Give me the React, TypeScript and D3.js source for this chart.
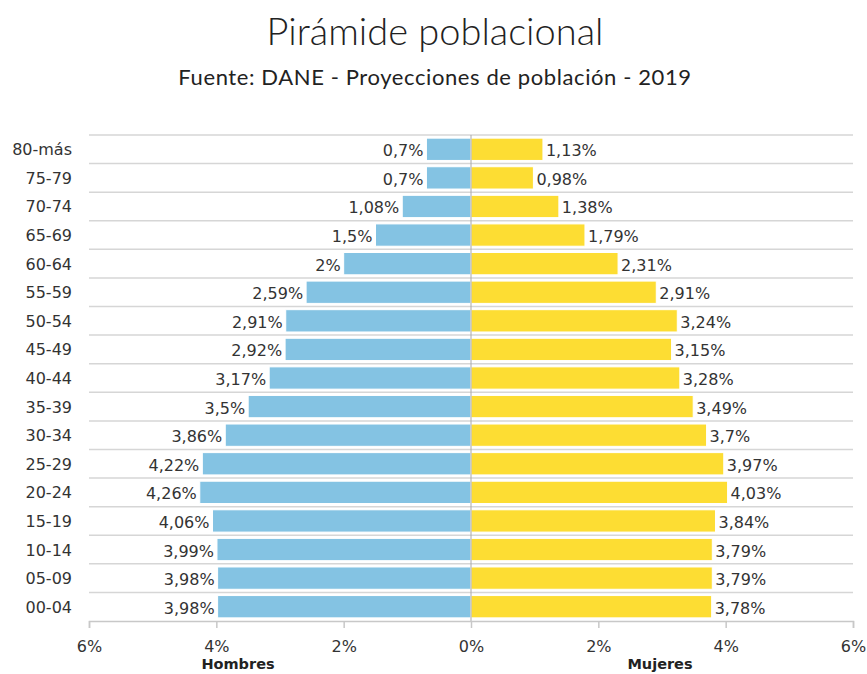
import React, { useEffect, useRef } from "react";
import { scaleLinear, scaleBand, axisBottom, select } from "d3";

const edades = ["80-más", "75-79", "70-74", "65-69", "60-64", "55-59", "50-54", "45-49", "40-44", "35-39", "30-34", "25-29", "20-24", "15-19", "10-14", "05-09", "00-04"];
const hombres = [0.7, 0.7, 1.08, 1.5, 2, 2.59, 2.91, 2.92, 3.17, 3.5, 3.86, 4.22, 4.26, 4.06, 3.99, 3.98, 3.98];
const mujeres = [1.13, 0.98, 1.38, 1.79, 2.31, 2.91, 3.24, 3.15, 3.28, 3.49, 3.7, 3.97, 4.03, 3.84, 3.79, 3.79, 3.78];
const ticksX = [-6, -4, -2, 0, 2, 4, 6];

const width = 867,
  height = 674;
const labelFont = "'DejaVu Sans', Verdana, sans-serif";
const titleFont = "Lato, 'Open Sans', sans-serif";

const pct = (v: number) => String(Math.abs(v)).replace(".", ",") + "%";

export default function App() {
  const axisRef = useRef<SVGGElement>(null);

  const margin = { top: 135, bottom: 621, left: 89, right: 853 };

  const x = scaleLinear().domain([-6, 6]).range([margin.left, margin.right]);
  const y = scaleBand<string>()
    .domain(edades)
    .range([margin.top, margin.bottom])
    .paddingInner(0.22)
    .paddingOuter(0.11);
  const step = y.step();
  const x0 = x(0);

  useEffect(() => {
    const axis = axisBottom(x)
      .tickValues(ticksX)
      .tickSize(7)
      .tickPadding(13)
      .tickFormat(d => pct(d as number));
    const g = select(axisRef.current);
    g.call(axis);
    g.select(".domain").attr("stroke", "#c8c8c8").attr("stroke-width", 1.5);
    g.selectAll(".tick line").attr("stroke", "#c8c8c8").attr("stroke-width", 1.5);
    g.selectAll(".tick text")
      .attr("fill", "#333")
      .style("font-family", labelFont)
      .style("font-size", "16px");
  }, []);

  return (
    <svg
      width={width}
      height={height}
      style={{ position: "absolute", left: 0, top: 0, background: "#fff" }}
    >
      <text
        x={435}
        y={45}
        textAnchor="middle"
        style={{ fontFamily: titleFont, fontSize: 38, fontWeight: 300, fill: "#222" }}
      >
        Pirámide poblacional
      </text>
      <text
        x={435}
        y={85}
        textAnchor="middle"
        style={{ fontFamily: titleFont, fontSize: 22, letterSpacing: 0.6, fill: "#222" }}
      >
        Fuente: DANE - Proyecciones de población - 2019
      </text>

      {/* grid lines */}
      {edades.map((d, i) => (
        <line
          key={"g" + d}
          x1={margin.left}
          x2={margin.right}
          y1={margin.top + i * step}
          y2={margin.top + i * step}
          stroke="#d6d6d6"
          strokeWidth={1.5}
        />
      ))}

      {/* bars */}
      {edades.map((d, i) => (
        <g key={d}>
          <rect
            x={x(-hombres[i])}
            y={y(d)}
            width={x0 - x(-hombres[i])}
            height={y.bandwidth()}
            fill="#84c3e3"
            stroke="#fff"
            strokeWidth={1}
          />
          <rect
            x={x0}
            y={y(d)}
            width={x(mujeres[i]) - x0}
            height={y.bandwidth()}
            fill="#fddd33"
            stroke="#fff"
            strokeWidth={1}
          />
          <text
            x={x(-hombres[i]) - 3}
            y={(y(d) as number) + y.bandwidth() / 2 + 7}
            textAnchor="end"
            style={{ fontFamily: labelFont, fontSize: 16, fill: "#333" }}
          >
            {pct(hombres[i])}
          </text>
          <text
            x={x(mujeres[i]) + 3}
            y={(y(d) as number) + y.bandwidth() / 2 + 7}
            style={{ fontFamily: labelFont, fontSize: 16, fill: "#333" }}
          >
            {pct(mujeres[i])}
          </text>
          <text
            x={72}
            y={(y(d) as number) + y.bandwidth() / 2 + 6}
            textAnchor="end"
            style={{ fontFamily: labelFont, fontSize: 16, fill: "#333" }}
          >
            {d}
          </text>
        </g>
      ))}

      <line x1={x0} x2={x0} y1={margin.top} y2={margin.bottom} stroke="#aaa" strokeWidth={1} />

      <g ref={axisRef} transform={`translate(0, ${margin.bottom})`} />

      <text
        x={238}
        y={669}
        textAnchor="middle"
        style={{ fontFamily: labelFont, fontSize: 14.5, fontWeight: "bold", fill: "#222" }}
      >
        Hombres
      </text>
      <text
        x={660}
        y={669}
        textAnchor="middle"
        style={{ fontFamily: labelFont, fontSize: 14.5, fontWeight: "bold", fill: "#222" }}
      >
        Mujeres
      </text>
    </svg>
  );
}
